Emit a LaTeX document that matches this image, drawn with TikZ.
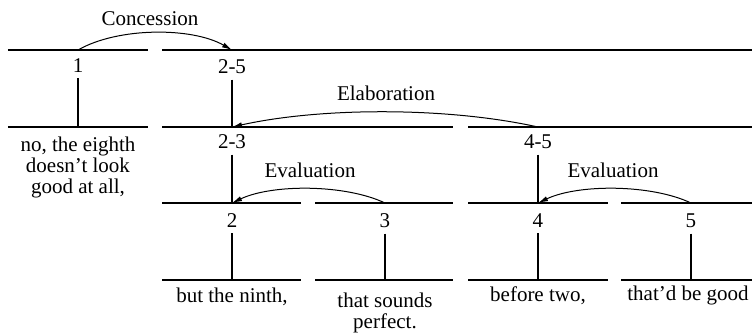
\documentclass[tikz,border=0pt]{standalone}
\usepackage{fontspec}
\setmainfont{Liberation Serif}
\usetikzlibrary{arrows.meta}

\tikzset{
  seg/.style={line width=0.8pt},
  stem/.style={line width=0.7pt},
  rel/.style={line width=0.5pt, -{Latex[length=5pt,width=2.6pt]}},
  spanlab/.style={anchor=base, inner sep=3pt},
  rellab/.style={anchor=base, inner sep=1pt},
  edu/.style={inner sep=0pt, align=center}
}

\begin{document}
\begin{tikzpicture}[x=0.5pt, y=-0.5pt, font=\fontsize{10.5}{10.5}\selectfont]
  \useasboundingbox (0,0) rectangle (752,333);

  % span lines
  \draw[seg] (8,50) -- (148,50);   \draw[seg] (162,50) -- (752,50);
  \draw[seg] (8,127) -- (148,127); \draw[seg] (162,127) -- (453,127);
  \draw[seg] (468,127) -- (752,127);
  \draw[seg] (162,203) -- (301,203); \draw[seg] (315,203) -- (453,203);
  \draw[seg] (468,203) -- (608,203); \draw[seg] (621,203) -- (752,203);
  \draw[seg] (162,280) -- (301,280); \draw[seg] (315,280) -- (453,280);
  \draw[seg] (468,280) -- (608,280); \draw[seg] (621,280) -- (752,280);

  % points on the lines
  \coordinate (top1)  at (78,50);   \coordinate (bot1)  at (78,127);
  \coordinate (top25) at (232,50);  \coordinate (bot25) at (232,127);
  \coordinate (top23) at (232,127); \coordinate (bot23) at (232,203);
  \coordinate (top45) at (538,127); \coordinate (bot45) at (538,203);
  \coordinate (top2)  at (232,203); \coordinate (bot2)  at (232,280);
  \coordinate (top3)  at (385,203); \coordinate (bot3)  at (385,280);
  \coordinate (top4)  at (538,203); \coordinate (bot4)  at (538,280);
  \coordinate (top5)  at (691,203); \coordinate (bot5)  at (691,280);

  % span labels
  \node[spanlab] (n1)  at (78,72)   {1};
  \node[spanlab] (n25) at (232,73)  {2-5};
  \node[spanlab] (n23) at (232,148) {2-3};
  \node[spanlab] (n45) at (538,148) {4-5};
  \node[spanlab] (n2)  at (232,227) {2};
  \node[spanlab] (n3)  at (385,227) {3};
  \node[spanlab] (n4)  at (538,227) {4};
  \node[spanlab] (n5)  at (691,227) {5};

  \draw[stem] (n1.south)  -- (bot1);
  \draw[stem] (n25.south) -- (bot25);
  \draw[stem] (n23.south) -- (bot23);
  \draw[stem] (n45.south) -- (bot45);
  \draw[stem] (n2.south)  -- (bot2);
  \draw[stem] (n3.south)  -- (bot3);
  \draw[stem] (n4.south)  -- (bot4);
  \draw[stem] (n5.south)  -- (bot5);

  % text segments
  \node[edu, anchor=north] (edu1) at (78,137)
    {no, the eighth\\doesn't look\\good at all,};
  \node[edu, anchor=base] (edu2) at (232,302) {but the ninth,};
  \node[edu, anchor=north] (edu3) at (385,293) {that sounds\\perfect.};
  \node[edu, anchor=base] (edu4) at (538,301) {before two,};
  \node[edu, anchor=base] (edu5) at (688,300) {that'd be good};

  % relations
  \draw[rel] (top1) .. controls +(40,-23) and +(-40,-23) .. (top25);
  \node[rellab] (concession) at (150,25) {Concession};

  \draw[rel] (top45) .. controls +(-90,-20) and +(90,-20) .. (top23);
  \node[rellab] (elaboration) at (386,100) {Elaboration};

  \draw[rel] (top3) .. controls +(-40,-19) and +(40,-19) .. (top2);
  \node[rellab] (evaluation1) at (310,177) {Evaluation};

  \draw[rel] (top5) .. controls +(-40,-19) and +(40,-19) .. (top4);
  \node[rellab] (evaluation2) at (613,177) {Evaluation};
\end{tikzpicture}
\end{document}
